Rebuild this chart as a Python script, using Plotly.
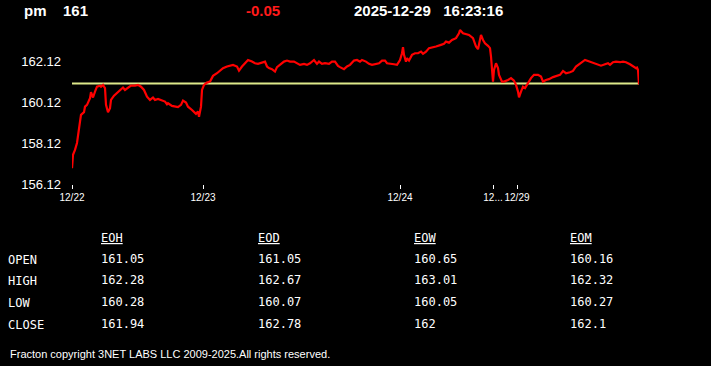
import plotly.graph_objects as go

# ---------------- data ----------------
symbol = "pm"
last_price = "161"
change = "-0.05"
stamp_date = "2025-12-29"
stamp_time = "16:23:16"
prev_close = 161.05

bars = [0, 1, 3, 5, 8, 9, 12, 13, 15, 18, 19, 21, 23, 25, 28, 29, 31, 33, 34, 36, 38, 39, 42, 45, 48, 51, 53, 56, 59, 63,
        66, 69, 72, 75, 78, 81, 83, 86, 89, 93, 95, 96, 100, 103, 106, 109, 111, 114, 116, 120, 122, 124, 126, 127, 129, 130,
        132, 135, 138, 141, 145, 148, 151, 155, 158, 161, 165, 167, 170, 173, 176, 180, 183, 186, 190, 193, 195, 197, 200,
        203, 205, 208, 212, 215, 218, 222, 225, 228, 232, 235, 238, 242, 245, 247, 250, 253, 257, 260, 263, 266, 268, 272,
        275, 278, 282, 285, 288, 290, 294, 297, 300, 304, 307, 310, 313, 315, 319, 322, 325, 328, 330, 331, 332, 334, 335,
        337, 340, 343, 346, 349, 351, 354, 357, 360, 364, 369, 372, 374, 377, 380, 384, 387, 388, 391, 394, 397, 401, 404,
        406, 407, 409, 411, 413, 416, 418, 419, 421, 422, 424, 426, 427, 430, 432, 436, 439, 442, 444, 446, 447, 449, 451,
        453, 456, 459, 462, 466, 469, 471, 474, 477, 481, 483, 488, 491, 494, 498, 501, 504, 508, 511, 513, 516, 519, 523,
        526, 529, 533, 536, 538, 541, 544, 548, 551, 554, 558, 561, 564, 565, 566, 567]
prices = [156.89, 157.55, 157.79, 158.13, 159.18, 159.51, 159.64, 159.91, 160.00, 160.33, 160.62, 160.36, 160.65, 160.89,
          160.94, 160.89, 160.98, 160.82, 160.00, 159.64, 159.84, 160.24, 160.45, 160.57, 160.73, 160.85, 160.73, 160.82,
          160.94, 160.94, 160.98, 160.89, 160.73, 160.40, 160.24, 160.36, 160.24, 160.29, 160.24, 160.16, 160.03, 160.08,
          159.95, 159.91, 159.89, 160.00, 160.21, 160.11, 159.91, 159.75, 159.67, 159.56, 159.67, 159.42, 159.91, 160.73,
          160.98, 161.09, 161.14, 161.42, 161.55, 161.68, 161.80, 161.88, 161.91, 161.96, 161.88, 161.68, 161.88, 162.04,
          162.20, 162.12, 162.04, 162.01, 162.07, 162.12, 161.88, 161.80, 161.75, 161.63, 161.85, 161.96, 162.12, 162.17,
          162.12, 162.12, 162.04, 161.96, 162.01, 161.96, 162.04, 162.20, 162.01, 162.12, 162.01, 162.04, 162.01, 162.12,
          162.12, 161.91, 161.85, 161.75, 161.88, 161.96, 162.17, 162.20, 162.12, 162.20, 162.12, 162.01, 161.96, 162.01,
          162.04, 162.17, 162.17, 162.04, 161.99, 161.99, 161.96, 162.20, 162.53, 162.83, 162.45, 162.12, 162.29, 162.17,
          162.45, 162.53, 162.53, 162.61, 162.50, 162.61, 162.78, 162.83, 162.86, 162.94, 162.99, 163.10, 163.05, 163.18,
          163.27, 163.51, 163.67, 163.51, 163.48, 163.43, 163.27, 162.86, 162.73, 163.02, 163.43, 163.18, 163.02, 162.89,
          162.78, 162.37, 161.14, 161.71, 162.04, 161.80, 161.47, 161.14, 161.14, 161.22, 161.31, 161.19, 160.98, 160.65,
          160.37, 160.65, 160.89, 160.82, 161.06, 161.31, 161.47, 161.47, 161.39, 161.14, 161.22, 161.26, 161.36, 161.39,
          161.47, 161.66, 161.55, 161.60, 161.66, 161.88, 162.04, 162.15, 162.20, 162.15, 162.09, 162.04, 161.99, 161.92,
          161.99, 162.04, 161.96, 162.09, 162.12, 162.09, 162.12, 162.09, 161.99, 161.88, 161.80, 161.83, 161.71, 161.00]

tick_bars = [0, 131, 328, 421, 445]
tick_labels = ["12/22", "12/23", "12/24", "12...", "12/29"]
y_ticks = [156.12, 158.12, 160.12, 162.12]

stat_rows = ["OPEN", "HIGH", "LOW", "CLOSE"]
stat_cols = ["EOH", "EOD", "EOW", "EOM"]
eoh = ["161.05", "162.28", "160.28", "161.94"]
eod = ["161.05", "162.67", "160.07", "162.78"]
eow = ["160.65", "163.01", "160.05", "162"]
eom = ["160.16", "162.32", "160.27", "162.1"]
footer = "Fracton copyright 3NET LABS LLC 2009-2025.All rights reserved."

# ---------------- layout constants ----------------
W, H = 711, 366
L, R, T, B = 72, 72, 20, 182
PW, PH = W - L - R, H - T - B
SANS = "Liberation Sans, Arial, sans-serif"
MONO = "DejaVu Sans Mono, Consolas, monospace"


def px(x):
    return (x - L) / PW


def py(y):
    return (H - B - y) / PH


fig = go.Figure()
fig.add_trace(go.Scatter(x=[bars[0], bars[-1]], y=[prev_close, prev_close], mode="lines",
                         line=dict(color="#dde88a", width=2), hoverinfo="skip"))
fig.add_trace(go.Scatter(x=bars, y=prices, mode="lines",
                         line=dict(color="#ff0000", width=2.2)))

ann = []


def text(x, y, s, size, color="white", family=SANS, xanchor="left"):
    ann.append(dict(x=px(x), y=py(y), xref="paper", yref="paper", text=s, showarrow=False,
                    xanchor=xanchor, yanchor="middle", font=dict(size=size, color=color, family=family)))


# header
text(22, 11, f"<b>{symbol}</b>", 15)
text(61, 11, f"<b>{last_price}</b>", 15)
text(244, 11, f"<b>{change}</b>", 15, color="#ff1a1a")
text(352, 11, f"<b>{stamp_date}&nbsp;&nbsp;&nbsp;{stamp_time}</b>", 15)

# table
col_x = [99, 256, 412, 568]
row_y = [259, 280, 302, 324]
for cx, name in zip(col_x, stat_cols):
    text(cx, 238, f"<u>{name}</u>", 12, family=MONO)
for ry, name in zip(row_y, stat_rows):
    text(6, ry + 1, name, 12, family=MONO)
for cx, col in zip(col_x, [eoh, eod, eow, eom]):
    for ry, v in zip(row_y, col):
        text(cx, ry, v, 12, family=MONO)

text(8, 354, footer, 11)

fig.update_layout(
    width=W, height=H, margin=dict(l=L, r=R, t=T, b=B),
    paper_bgcolor="black", plot_bgcolor="black", showlegend=False,
    annotations=ann,
    xaxis=dict(range=[0, 567], showgrid=False, zeroline=False, showline=False,
               tickmode="array", tickvals=tick_bars, ticktext=tick_labels, tickangle=0,
               ticks="outside", ticklen=4, tickwidth=1, tickcolor="white",
               tickfont=dict(size=10, color="white", family=SANS)),
    yaxis=dict(range=[156.12, 156.12 + PH / 20.4], showgrid=False, zeroline=False, showline=False,
               tickmode="array", tickvals=y_ticks, ticktext=[f"{v:.2f}" for v in y_ticks],
               ticks="", ticklabelstandoff=10,
               tickfont=dict(size=13, color="white", family=SANS)),
)

fig.write_html("out.html", config={"displayModeBar": False},
               post_script="document.body.style.margin='0';document.body.style.background='black';")
